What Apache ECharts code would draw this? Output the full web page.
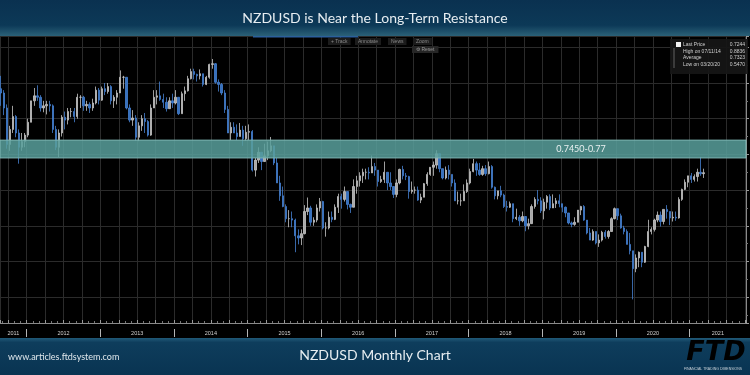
<!DOCTYPE html>
<html><head><meta charset="utf-8">
<script src="https://cdn.jsdelivr.net/npm/echarts@6/dist/echarts.min.js"></script>
<style>html,body{margin:0;padding:0;background:#000}#c{width:750px;height:375px}</style>
</head><body><div id="c"></div>
<script>
// ---- texts ----
const titleText = 'NZDUSD is Near the Long-Term Resistance';
const footerText = 'NZDUSD Monthly Chart';
const siteText = 'www.articles.ftdsystem.com';
const zoneLow = 0.745, zoneHigh = 0.77;
const zoneLabel = '0.7450-0.77';
const legendRows = [['Last Price','0.7244'],['High on 07/11/14','0.8836'],['Average','0.7323'],['Low on 03/20/20','0.5470']];
const toolButtons = ['Track','Annotate','News','Zoom'];

// ---- axis ----
const yearTicks = [2012,2013,2014,2015,2016,2017,2018,2019,2020,2021];
const yearLabelPos = [2011.818,2012.5,2013.5,2014.5,2015.5,2016.5,2017.5,2018.5,2019.5,2020.5,2021.382];
const xMin = 2011.6376, xMax = 2021.764;
const yMin = 0.5139, yMax = 0.9158;

// ---- data: semi-monthly candles from Aug 2011 (two per month) ----
const startYear = 2011, startMonth = 8;
const firstOpen = 0.8770;
const closes = [
 .8420,.8360,.8150,.7640,.7850,.8030,.7800,.7600,.7680,.7770,
 .7950,.8250,.8320,.8300,.8150,.8180,.8200,.8180,.7850,.7600,.7800,.8020,.7980,.8100,.8100,.8030,.8300,.8300,.8180,.8200,.8150,.8220,.8400,.8260,
 .8420,.8380,.8450,.8250,.8300,.8360,.8580,.8580,.8150,.7980,.8010,.7740,.7900,.8000,.7960,.7770,.8150,.8300,.8320,.8270,.8230,.8140,.8250,.8220,
 .8300,.8070,.8350,.8390,.8560,.8660,.8620,.8600,.8630,.8480,.8580,.8760,.8770,.8510,.8480,.8360,.8130,.7800,.7880,.7800,.7750,.7840,.7720,.7810,
 .7820,.7280,.7420,.7530,.7400,.7480,.7550,.7620,.7380,.7100,.6920,.6770,.6600,.6600,.6580,.6360,.6330,.6390,.6700,.6750,.6550,.6580,.6750,.6840,
 .6470,.6470,.6620,.6590,.6760,.6910,.6870,.6980,.6800,.6760,.7050,.7130,.7200,.7250,.7250,.7240,.7330,.7280,.7120,.7150,.7250,.7100,.7050,.6940,
 .7100,.7290,.7200,.7190,.6980,.7000,.7000,.6860,.6900,.7090,.7220,.7320,.7350,.7510,.7300,.7170,.7280,.7220,.7100,.6850,.6850,.6850,.6980,.7100,
 .7260,.7370,.7280,.7220,.7300,.7230,.7330,.7040,.6920,.6990,.6930,.6770,.6760,.6810,.6600,.6620,.6570,.6630,.6500,.6530,.6770,.6870,.6850,.6710,
 .6830,.6910,.6750,.6810,.6850,.6810,.6760,.6680,.6540,.6520,.6550,.6720,.6770,.6580,.6400,.6300,.6420,.6260,.6300,.6410,.6350,.6420,.6600,.6740,
 .6640,.6470,.6420,.6240,.6150,.5900,.6050,.6130,.5990,.6210,.6420,.6450,.6580,.6650,.6560,.6730,.6700,.6610,.6620,.6610,.6870,.7010,.7110,.7200,
 .7150,.7190,.7250,.7230,.7244
];
const highs = [
 .8843,.8600,.8400,.8200,.7900,.8180,.8050,.7850,.7800,.7800,
 .8000,.8250,.8430,.8468,.8330,.8250,.8250,.8250,.8200,.7900,.7850,.8050,.8100,.8150,.8150,.8150,.8350,.8330,.8320,.8250,.8230,.8280,.8450,.8430,
 .8450,.8500,.8500,.8470,.8330,.8400,.8676,.8600,.8580,.8200,.8120,.8050,.7950,.8050,.8080,.7980,.8200,.8400,.8400,.8520,.8350,.8300,.8300,.8350,
 .8400,.8300,.8380,.8450,.8600,.8700,.8700,.8630,.8690,.8630,.8600,.8770,.8836,.8780,.8550,.8500,.8400,.8180,.7950,.7950,.7920,.7940,.7900,.7900,
 .7920,.7840,.7450,.7600,.7530,.7650,.7680,.7744,.7620,.7450,.7200,.7050,.6800,.6720,.6700,.6600,.6450,.6450,.6790,.6896,.6780,.6620,.6800,.6890,
 .6850,.6550,.6700,.6700,.6800,.6950,.6950,.7050,.6980,.6810,.7150,.7200,.7250,.7300,.7300,.7320,.7485,.7380,.7280,.7200,.7400,.7250,.7250,.7050,
 .7150,.7300,.7340,.7240,.7200,.7120,.7050,.7050,.6950,.7100,.7250,.7320,.7400,.7558,.7500,.7300,.7330,.7350,.7220,.7150,.6980,.6950,.7080,.7150,
 .7300,.7437,.7400,.7380,.7340,.7350,.7400,.7350,.7050,.6990,.7060,.6950,.6850,.6840,.6810,.6740,.6650,.6700,.6630,.6600,.6800,.6900,.7000,.6900,
 .6880,.6930,.6940,.6940,.6890,.6940,.6800,.6770,.6670,.6560,.6620,.6720,.6780,.6790,.6580,.6470,.6450,.6420,.6380,.6430,.6440,.6440,.6620,.6756,
 .6690,.6670,.6500,.6450,.6400,.6150,.6100,.6140,.6120,.6220,.6585,.6480,.6600,.6700,.6700,.6730,.6790,.6700,.6700,.6700,.6900,.7020,.7150,.7200,
 .7240,.7220,.7300,.7465,.7300
];
const lows = [
 .8350,.8180,.8050,.7580,.7550,.7800,.7740,.7370,.7550,.7600,
 .7740,.7950,.8180,.8250,.8100,.8090,.8060,.8100,.7800,.7560,.7462,.7750,.7850,.7920,.8020,.7950,.8000,.8150,.8110,.8110,.8080,.8110,.8200,.8200,
 .8250,.8330,.8350,.8200,.8150,.8200,.8360,.8420,.8130,.7950,.7900,.7690,.7685,.7830,.7800,.7750,.7760,.8200,.8200,.8250,.8150,.8100,.8150,.8150,
 .8200,.8051,.8080,.8250,.8380,.8550,.8550,.8520,.8550,.8450,.8470,.8560,.8700,.8490,.8380,.8330,.8080,.7800,.7700,.7800,.7700,.7750,.7620,.7690,
 .7700,.7260,.7190,.7380,.7280,.7400,.7420,.7530,.7350,.7100,.6850,.6760,.6550,.6480,.6480,.6130,.6240,.6230,.6380,.6650,.6500,.6500,.6550,.6700,
 .6450,.6348,.6450,.6550,.6580,.6680,.6740,.6840,.6730,.6680,.6760,.6950,.7050,.7100,.7150,.7150,.7240,.7200,.7050,.7100,.7100,.7000,.7000,.6890,
 .6900,.7080,.7150,.7140,.6880,.6950,.6950,.6850,.6818,.6900,.7060,.7200,.7200,.7300,.7250,.7150,.7150,.7150,.7050,.6850,.6800,.6780,.6850,.6960,
 .7080,.7250,.7200,.7200,.7200,.7200,.7220,.7020,.6870,.6870,.6900,.6750,.6700,.6750,.6550,.6580,.6500,.6550,.6424,.6450,.6530,.6740,.6800,.6680,
 .6590,.6740,.6720,.6760,.6750,.6760,.6690,.6620,.6520,.6480,.6500,.6560,.6650,.6570,.6380,.6300,.6290,.6240,.6205,.6280,.6320,.6320,.6420,.6590,
 .6580,.6460,.6380,.6250,.6100,.5470,.5850,.5920,.5920,.5980,.6200,.6380,.6420,.6550,.6490,.6520,.6600,.6510,.6560,.6570,.6600,.6850,.7000,.7040,
 .7100,.7120,.7120,.7200,.7170
];

// build candlestick rows [t, open, close, low, high]
const candles = closes.map((c, i) => {
  const o = i === 0 ? firstOpen : closes[i - 1];
  const t = startYear + (startMonth - 1) / 12 + i / 24 + 1 / 48;
  return [t, o, c, Math.min(lows[i], o, c), Math.max(highs[i], o, c)];
});

const chart = echarts.init(document.getElementById('c'), null, {renderer: 'canvas', width: 750, height: 375});

const gfx = [];
// header
gfx.push({type:'rect', z:100, shape:{x:0,y:0,width:750,height:36},
  style:{fill:new echarts.graphic.LinearGradient(0,0,0,1,[{offset:0,color:'#0a3150'},{offset:0.7,color:'#0c3957'},{offset:1,color:'#2b6178'}])}});
gfx.push({type:'text', z:101, x:375, y:18, style:{text:titleText, fill:'#e6edf1', font:'14px Lato', align:'center', verticalAlign:'middle'}});
gfx.push({type:'rect', z:101, shape:{x:253,y:36,width:105,height:1.5}, style:{fill:'#2b5f9c'}});
// footer
gfx.push({type:'rect', z:100, shape:{x:0,y:338,width:750,height:37},
  style:{fill:new echarts.graphic.LinearGradient(0,0,0,1,[{offset:0,color:'#215a78'},{offset:0.12,color:'#0e3d5c'},{offset:1,color:'#093452'}])}});
gfx.push({type:'text', z:101, x:375, y:355, style:{text:footerText, fill:'#e6edf1', font:'14px Lato', align:'center', verticalAlign:'middle'}});
gfx.push({type:'text', z:101, x:8, y:357, style:{text:siteText, fill:'#dfe7ec', font:'9px Lato', align:'left', verticalAlign:'middle'}});
gfx.push({type:'text', z:101, x:716, y:353, style:{text:'FTD', font:'italic bold 27px "DejaVu Sans"', align:'center', verticalAlign:'middle',
  fill:new echarts.graphic.LinearGradient(0,0,0,1,[{offset:0,color:'#f4f4f4'},{offset:1,color:'#9a9ea2'}])}});
gfx.push({type:'text', z:101, x:713, y:369, style:{text:'FINANCIAL TRADING DIMENSIONS', fill:'#c9d2d8', font:'3.5px "Liberation Sans"', align:'center', verticalAlign:'middle'}});
// toolbar
const btnX = [328, 355, 388, 413];
toolButtons.forEach((b, i) => {
  gfx.push({type:'text', z:101, x:btnX[i], y:38, style:{text:(i===0?'+ ':'') + b, fill:'#8a8a8a', font:'5px "Liberation Sans"',
    backgroundColor:'#1b1b1b', padding:[1,3,1,3], align:'left', verticalAlign:'top'}});
});
gfx.push({type:'text', z:101, x:412, y:46, style:{text:'\u2699 Reset', fill:'#9a9a9a', font:'5px "Liberation Sans"',
  backgroundColor:'#262626', padding:[1,4,1,4], align:'left', verticalAlign:'top'}});
// legend box
gfx.push({type:'rect', z:101, shape:{x:670,y:39,width:78,height:35}, style:{fill:'rgba(22,22,22,0.92)'}});
gfx.push({type:'rect', z:102, shape:{x:676,y:42,width:5,height:5}, style:{fill:'#f2f2f2'}});
gfx.push({type:'line', z:102, shape:{x1:674,y1:48,x2:674,y2:68}, style:{stroke:'#777', lineWidth:0.8}});
legendRows.forEach((r, i) => {
  const y = 45 + i * 6.5;
  gfx.push({type:'text', z:102, x:683, y:y, style:{text:r[0], fill:'#cfcfcf', font:'5px "Liberation Sans"', align:'left', verticalAlign:'middle'}});
  gfx.push({type:'text', z:102, x:745, y:y, style:{text:r[1], fill:'#cfcfcf', font:'5px "Liberation Sans"', align:'right', verticalAlign:'middle'}});
});

const gridColor = '#2b2b2b';
const option = {
  backgroundColor: '#000',
  animation: false,
  grid: {left: 0, right: 4, top: 36, bottom: 52},
  xAxis: [
    {type:'value', min:xMin, max:xMax, splitNumber:40, minInterval:0.25, maxInterval:0.25,
     axisLine:{show:true, lineStyle:{color:'#8a8a8a', width:1}},
     axisTick:{show:true, inside:true, length:3, lineStyle:{color:'#9a9a9a'}},
     minorTick:{show:true, splitNumber:3, length:2, lineStyle:{color:'#777'}},
     axisLabel:{show:false},
     splitLine:{show:true, lineStyle:{color:gridColor, width:1}}},
    {type:'value', min:xMin, max:xMax, position:'bottom', offset:6,
     axisLine:{show:false},
     axisTick:{show:true, customValues:yearTicks, length:8, lineStyle:{color:'#b5b5b5'}},
     axisLabel:{show:true, customValues:yearLabelPos, formatter:v => String(Math.floor(v + 1e-6)),
       color:'#cfcfcf', fontSize:5.5, fontFamily:'Liberation Sans', margin:1},
     splitLine:{show:false}}
  ],
  yAxis: {type:'value', position:'right', min:yMin, max:yMax, splitNumber:8, minInterval:0.05, maxInterval:0.05,
    axisLine:{show:true, lineStyle:{color:'#8a8a8a'}},
    axisTick:{show:true, length:3, lineStyle:{color:'#9a9a9a'}},
    minorTick:{show:true, splitNumber:2, length:2, lineStyle:{color:'#777'}},
    axisLabel:{show:false},
    splitLine:{show:true, lineStyle:{color:gridColor, width:1}}},
  series: [{
    type:'candlestick', xAxisIndex:0, yAxisIndex:0,
    dimensions:['t','open','close','lowest','highest'],
    encode:{x:'t', y:['open','close','lowest','highest']},
    data:candles,
    barWidth:1.8,
    itemStyle:{color:'#a9a9a9', color0:'#3670bd', borderColor:'#c6c6c6', borderColor0:'#4682d2', borderWidth:0.8},
    markArea:{silent:true, z:3,
      itemStyle:{color:'rgba(88,159,155,0.85)', borderColor:'rgba(130,185,182,0.9)', borderWidth:1},
      label:{show:true, position:'inside', offset:[208,0], color:'#e8f0f0', fontSize:9, fontFamily:'Lato'},
      data:[[{yAxis:zoneLow, name:zoneLabel},{yAxis:zoneHigh}]]}
  }],
  graphic: gfx
};
chart.setOption(option);
</script></body></html>
